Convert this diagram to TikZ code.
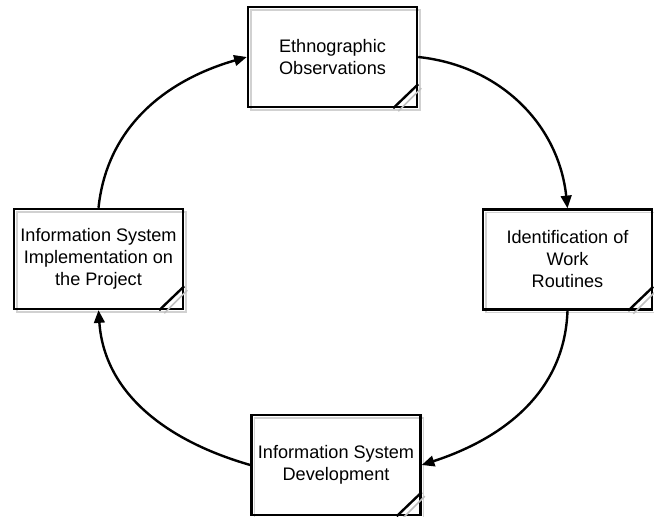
\documentclass[tikz,border=0pt]{standalone}
\usepackage{fontspec}
\setmainfont{Liberation Sans}
\usetikzlibrary{arrows.meta,calc}
\begin{document}
\begin{tikzpicture}[x=0.75pt,y=-0.75pt,
  stagebox/.style={draw=black,line width=1.8pt,rectangle,minimum width=126.75pt,minimum height=75pt,
    align=center,font=\fontsize{13.6pt}{16.5pt}\selectfont,inner sep=2pt},
  shadowbox/.style={draw=black!18,line width=1.2pt},
  cornerline/.style={line width=1.8pt,black},
  cornershade/.style={line width=1.2pt,black!25},
  flow/.style={line width=1.8pt,-{Triangle[length=9.5pt,width=8pt]}}]
\useasboundingbox (0,0) rectangle (654,517);
% shadows
\foreach \x/\y in {332.5/57, 567.5/259.5, 98.5/259, 336/465}{
  \draw[shadowbox] (\x-84.5+3,\y-50+3) rectangle (\x+84.5+3,\y+50+3);
}
\node[stagebox] (obs) at (332.5,57) {Ethnographic\\Observations};
\node[stagebox] (ident) at (567.5,259.5) {Identification of\\Work\\Routines};
\node[stagebox] (impl) at (98.5,259) {Information System\\Implementation on\\the Project};
\node[stagebox] (dev) at (336,465) {Information System\\Development};
\foreach \n in {obs,ident,impl,dev}{
  \draw[cornershade] ($(\n.south east)+(-20,3)$) -- ($(\n.south east)+(3,-20)$);
  \draw[cornerline] ($(\n.south east)+(-25,0)$) -- ($(\n.south east)+(0,-24)$);
}
\draw[flow] (impl.north) to[out=84,in=196] (obs.west);
\draw[flow] (obs.east) to[out=-6,in=96] (ident.north);
\draw[flow] (ident.south) to[out=-92,in=18] (dev.east);
\draw[flow] (dev.west) to[out=164,in=-86] (impl.south);
\end{tikzpicture}
\end{document}
